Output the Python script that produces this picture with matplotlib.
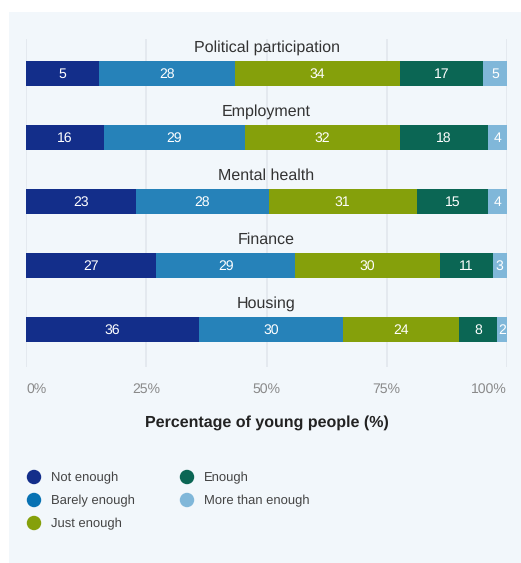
import matplotlib
matplotlib.use("Agg")
import matplotlib.pyplot as plt
from matplotlib.patches import Rectangle
import numpy as np

plt.rcParams['font.family'] = ['Liberation Sans', 'DejaVu Sans']
plt.rcParams['text.hinting'] = 'no_hinting'
plt.rcParams['text.hinting_factor'] = 1

categories = ["Political participation", "Employment", "Mental health", "Finance", "Housing"]
series = ["Not enough", "Barely enough", "Just enough", "Enough", "More than enough"]
colors = ["#132e8a", "#2682b9", "#85a00b", "#0b6654", "#80b7d9"]
legend_colors = ["#132e8a", "#0872b3", "#85a00b", "#0b6654", "#80b7d9"]

not_enough = [15, 16, 23, 27, 36]
barely_enough = [28, 29, 28, 29, 30]
just_enough = [34, 32, 31, 30, 24]
enough = [17, 18, 15, 11, 8]
more_than_enough = [5, 4, 4, 3, 2]

# Labels printed on the bars (as shown in the source)
label_not_enough = ["5", "16", "23", "27", "36"]
label_barely = ["28", "29", "28", "29", "30"]
label_just = ["34", "32", "31", "30", "24"]
label_enough = ["17", "18", "15", "11", "8"]
label_more = ["5", "4", "4", "3", "2"]

tick_values = [0, 25, 50, 75, 100]
tick_labels = ["0%", "25%", "50%", "75%", "100%"]

W, H = 521, 563
fig = plt.figure(figsize=(W / 100, H / 100), dpi=100)
fig.patch.set_facecolor("white")

# background panel
fig.patches.append(Rectangle((9 / W, 0), 1 - 9 / W, 1 - 12 / H, transform=fig.transFigure,
                             facecolor="#f2f7fb", edgecolor="none", zorder=-10))

x0, x1 = 26, 507
y_top, y_bot = 39, 367
ax = fig.add_axes([x0 / W, 1 - y_bot / H, (x1 - x0) / W, (y_bot - y_top) / H])
ax.set_facecolor("none")

data = np.array([not_enough, barely_enough, just_enough, enough, more_than_enough], dtype=float)
labels = [label_not_enough, label_barely, label_just, label_enough, label_more]
totals = data.sum(axis=0)
pct = data / totals * 100

ypos = np.arange(len(categories))
left = np.zeros(len(categories))
bar_h = 25 / 64
for s in range(len(series)):
    ax.barh(ypos, pct[s], left=left, height=bar_h, color=colors[s], edgecolor="none", zorder=3)
    for i in range(len(categories)):
        ax.text(left[i] + pct[s][i] / 2, ypos[i], labels[s][i], ha="center", va="center_baseline",
                color="white", fontsize=9.8, zorder=4)
    left += pct[s]

for i, c in enumerate(categories):
    ax.text(50, ypos[i] - 0.42, c, ha="center", va="center_baseline", fontsize=11.6, color="#333333")

ax.set_xlim(0, 100)
ax.set_ylim((y_bot - 73) / 64, (y_top - 73) / 64)
ax.set_xticks(tick_values)
ax.set_xticklabels(tick_labels)
ax.grid(axis="x", color="#e2e7ed", linewidth=1.2, zorder=0)
ax.set_yticks([])
for sp in ax.spines.values():
    sp.set_visible(False)
ax.tick_params(axis="x", length=0, labelsize=10.3, labelcolor="#8a8a8a", pad=11)
tl = ax.get_xticklabels()
tl[0].set_ha("left")
tl[-1].set_ha("right")
ax.set_xlabel("Percentage of young people (%)", fontsize=11.6, fontweight="bold",
              color="#222222", labelpad=14)

# legend
lax = fig.add_axes([0, 0, 1, 1])
lax.set_xlim(0, W)
lax.set_ylim(H, 0)
lax.axis("off")
for s, name in enumerate(series):
    col, row = divmod(s, 3)
    cx = 34 + col * 153
    cy = 477 + row * 23
    lax.scatter([cx], [cy], s=14 ** 2 * 0.55, color=legend_colors[s], edgecolor="none")
    lax.text(cx + 17, cy, name, ha="left", va="center_baseline", fontsize=9.7, color="#444444")

fig.savefig("out.png", dpi=100, facecolor=fig.get_facecolor())
